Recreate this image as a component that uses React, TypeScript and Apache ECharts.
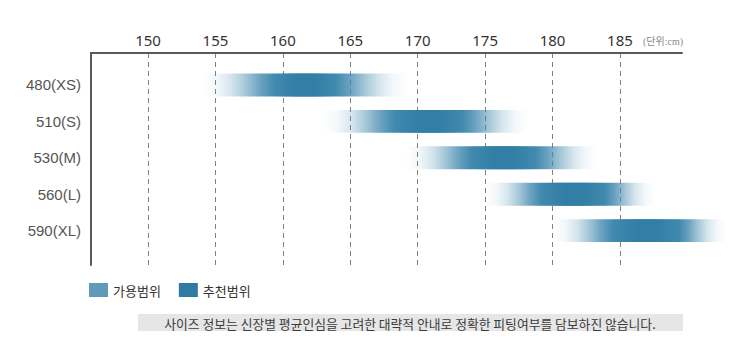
import React, { useEffect, useRef } from "react";
import * as echarts from "echarts";

const sizes = ["480(XS)", "510(S)", "530(M)", "560(L)", "590(XL)"];
const heightTicks = [150, 155, 160, 165, 170, 175, 180, 185];
// available (가용범위) outer range and recommended (추천범위) core range, in cm
const availableMin = [154.0, 163.0, 169.1, 175.0, 180.0];
const recommendedMin = [159.4, 168.3, 174.0, 179.2, 184.5];
const recommendedMax = [163.9, 173.3, 178.7, 183.9, 189.4];
const availableMax = [169.3, 178.2, 183.4, 187.6, 192.9];
const legendNames = ["가용범위", "추천범위"];
const note = "사이즈 정보는 신장별 평균인심을 고려한 대략적 안내로 정확한 피팅여부를 담보하진 않습니다.";
const unitText = "(단위:cm)";

const FONT = "'Liberation Sans', Arial, 'Noto Sans CJK KR', sans-serif";
const KFONT = "'Noto Sans CJK KR', sans-serif";

// alpha easing across a fade ramp (fraction of ramp -> opacity)
const ramp = [
  [0, 0],
  [0.2, 0.06],
  [0.4, 0.22],
  [0.6, 0.48],
  [0.8, 0.78],
  [1, 1],
];

export default function App() {
  const ref = useRef<HTMLDivElement>(null);
  useEffect(() => {
    if (!ref.current) return;
    const chart = echarts.init(ref.current, undefined, { renderer: "svg" });
    const rows = sizes.map((_, i) => [i, availableMin[i], recommendedMin[i], recommendedMax[i], availableMax[i]]);

    const availRender = (params: any, api: any) => {
      const row = api.value(0);
      const p0 = api.coord([api.value(1), row]);
      const p1 = api.coord([api.value(2), row]);
      const p2 = api.coord([api.value(3), row]);
      const p3 = api.coord([api.value(4), row]);
      const h = api.size([0, 0.63])[1];
      const w = p3[0] - p0[0];
      const a = (p1[0] - p0[0]) / w;
      const b = (p2[0] - p0[0]) / w;
      const c = [65, 137, 174];
      const stops: any[] = [];
      ramp.forEach(([f, o]) => stops.push({ offset: f * a, color: `rgba(${c},${o})` }));
      ramp
        .slice()
        .reverse()
        .forEach(([f, o]) => stops.push({ offset: b + (1 - f) * (1 - b), color: `rgba(${c},${o})` }));
      return {
        type: "rect",
        shape: { x: p0[0], y: p0[1] - h / 2, width: w, height: h },
        style: { fill: new echarts.graphic.LinearGradient(0, 0, 1, 0, stops) },
      };
    };
    const recRender = (params: any, api: any) => {
      const row = api.value(0);
      const p1 = api.coord([api.value(2), row]);
      const p2 = api.coord([api.value(3), row]);
      const h = api.size([0, 0.63])[1];
      const w = p2[0] - p1[0];
      const c = [50, 126, 166];
      return {
        type: "rect",
        shape: { x: p1[0], y: p1[1] - h / 2, width: w, height: h },
        style: {
          fill: new echarts.graphic.LinearGradient(0, 0, 1, 0, [
            { offset: 0, color: `rgba(${c},0)` },
            { offset: 0.35, color: `rgba(${c},1)` },
            { offset: 0.65, color: `rgba(${c},1)` },
            { offset: 1, color: `rgba(${c},0)` },
          ]),
        },
      };
    };

    chart.setOption({
      animation: false,
      grid: { left: 91, right: 64, top: 53, bottom: 96, containLabel: false },
      xAxis: {
        type: "value",
        position: "top",
        min: 145.77,
        max: 189.6,
        axisLine: { show: true, onZero: false, lineStyle: { color: "#5a5a5a", width: 2 } },
        axisTick: { show: false, customValues: heightTicks },
        axisLabel: {
          customValues: heightTicks,
          margin: 6,
          fontSize: 15,
          color: "#333",
          fontFamily: "'Noto Sans', sans-serif",
        },
        splitLine: { show: true, lineStyle: { color: "#808080", width: 1, type: [5, 4] } },
      },
      yAxis: {
        type: "value",
        inverse: true,
        min: -0.879,
        max: 4.945,
        axisLine: { show: true, onZero: false, lineStyle: { color: "#5a5a5a", width: 2 } },
        axisTick: { show: false, customValues: [0, 1, 2, 3, 4] },
        axisLabel: {
          customValues: [0, 1, 2, 3, 4],
          formatter: (v: number) => sizes[Math.round(v)] ?? "",
          margin: 10,
          fontSize: 15,
          color: "#555",
          fontFamily: FONT,
        },
        splitLine: { show: false },
      },
      legend: {
        data: legendNames,
        left: 89,
        top: 283,
        padding: 0,
        icon: "rect",
        itemWidth: 19,
        itemHeight: 14,
        itemGap: 18,
        selectedMode: false,
        textStyle: { fontSize: 13, color: "#333", fontFamily: KFONT },
      },
      series: [
        {
          name: legendNames[0],
          type: "custom",
          renderItem: availRender,
          clip: false,
          itemStyle: { color: "#5f9ab9" },
          encode: { x: [1, 2, 3, 4], y: 0 },
          data: rows,
          silent: true,
        },
        {
          name: legendNames[1],
          type: "custom",
          renderItem: recRender,
          clip: false,
          itemStyle: { color: "#2f7ba3" },
          encode: { x: [1, 2, 3, 4], y: 0 },
          data: rows,
          silent: true,
        },
      ],
      graphic: [
        {
          type: "text",
          x: 683,
          y: 41,
          style: { text: unitText, align: "right", verticalAlign: "middle", fontSize: 10, fill: "#888", fontFamily: "'Liberation Serif', " + KFONT },
        },
        { type: "rect", shape: { x: 138, y: 314, width: 545, height: 17 }, style: { fill: "#e6e6e6" } },
        {
          type: "text",
          x: 410,
          y: 323,
          style: { text: note, align: "center", verticalAlign: "middle", fontSize: 12.8, fill: "#3a3a3a", fontFamily: KFONT },
        },
      ],
    });
    return () => chart.dispose();
  }, []);
  return <div ref={ref} style={{ position: "absolute", left: 0, top: 0, width: 746, height: 361 }} />;
}
